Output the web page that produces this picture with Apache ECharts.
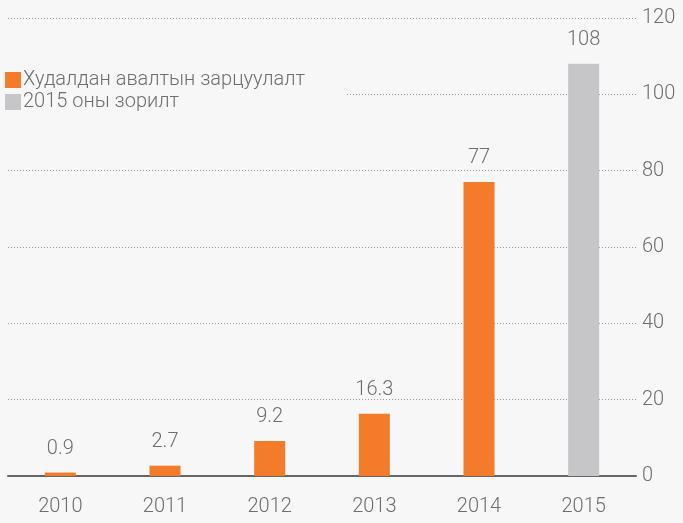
<!DOCTYPE html>
<html><head><meta charset="utf-8">
<script src="https://cdn.jsdelivr.net/npm/echarts@6/dist/echarts.min.js"></script>
<style>html,body{margin:0;padding:0;background:#f7f7f7;}#c{width:683px;height:523px;}</style>
</head><body><div id="c"></div>
<script>
const categories = ['2010','2011','2012','2013','2014','2015'];
const spending = [0.9, 2.7, 9.2, 16.3, 77, null];
const target2015 = [null, null, null, null, null, 108];
const seriesNames = ['Худалдан авалтын зарцуулалт', '2015 оны зорилт'];
const yTicks = {min: 0, max: 120, interval: 20};

const font = 'Roboto';
const txt = '#6e6e6e';
const fs = 20;
const chart = echarts.init(document.getElementById('c'));
const lbl = {show: true, position: 'top', distance: 14, color: txt, fontSize: fs, fontFamily: font, fontWeight: 300};
chart.setOption({
  backgroundColor: '#f7f7f7',
  animation: false,
  grid: {left: 8, right: 47, top: 18, bottom: 47},
  legend: {
    orient: 'vertical', left: 0, top: 66,
    padding: [4, 42, 8, 5],
    backgroundColor: '#f7f7f7',
    itemWidth: 16, itemHeight: 16, itemGap: 2,
    icon: 'rect',
    textStyle: {color: txt, fontSize: fs, fontFamily: font, fontWeight: 300, padding: [0,0,0,-3]},
    data: seriesNames
  },
  xAxis: {
    type: 'category', data: categories,
    axisLine: {lineStyle: {color: '#666', width: 2}},
    axisTick: {alignWithLabel: true, length: 11, lineStyle: {color: '#666', width: 2}},
    axisLabel: {color: txt, fontSize: fs, fontFamily: font, fontWeight: 300, margin: 21}
  },
  yAxis: {
    type: 'value', position: 'right', min: yTicks.min, max: yTicks.max, interval: yTicks.interval,
    axisLine: {show: false}, axisTick: {show: false},
    splitLine: {lineStyle: {color: '#999', type: [1, 2], width: 1}},
    axisLabel: {color: txt, fontSize: fs, fontFamily: font, fontWeight: 300, margin: 6}
  },
  series: [
    {name: seriesNames[0], type: 'bar', data: spending, barWidth: 31, barGap: '-100%',
     itemStyle: {color: '#f47b2a'}, label: lbl},
    {name: seriesNames[1], type: 'bar', data: target2015, barWidth: 31,
     itemStyle: {color: '#c6c6c8'}, label: lbl}
  ]
});
</script></body></html>
